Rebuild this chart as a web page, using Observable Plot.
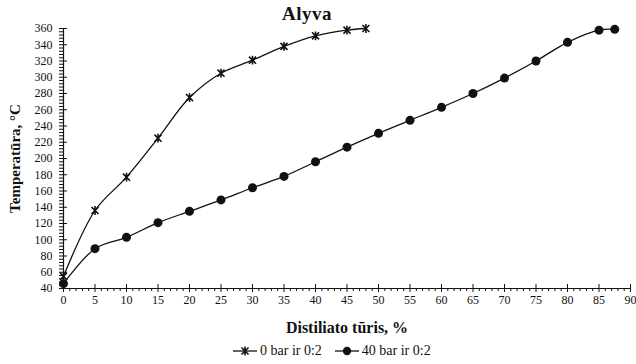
<!DOCTYPE html>
<html><head><meta charset="utf-8">
<script src="https://cdn.jsdelivr.net/npm/d3@7"></script>
<script src="https://cdn.jsdelivr.net/npm/@observablehq/plot@0.6"></script>
<style>
body{margin:0;background:#fff;font-family:"Liberation Serif","Times New Roman",serif;color:#111;}
#wrap{position:relative;width:636px;height:364px;overflow:hidden;}
#title{position:absolute;top:3px;left:307px;transform:translateX(-50%);font-weight:bold;font-size:19px;letter-spacing:0.5px;}
#chart{position:absolute;top:24px;left:0;}
#chart svg{overflow:visible;font-family:"Liberation Serif","Times New Roman",serif;}
#legend{position:absolute;top:343px;left:232px;display:flex;align-items:center;font-size:14px;white-space:nowrap;}
#legend .item{display:flex;align-items:center;margin-right:12px;}
#legend svg{margin-right:2px;}
</style>
</head><body>
<div id="wrap">
<div id="title">Alyva</div>
<div id="chart"></div>
<div id="legend"></div>
</div>
<script>
const seriesNames = ["0 bar ir 0:2", "40 bar ir 0:2"];
const x0bar = [0, 5, 10, 15, 20, 25, 30, 35, 40, 45, 48];
const t0bar = [55, 136, 177, 225, 275, 305, 321, 338, 351, 358, 360];
const x40bar = [0, 5, 10, 15, 20, 25, 30, 35, 40, 45, 50, 55, 60, 65, 70, 75, 80, 85, 87.5];
const t40bar = [46, 89, 103, 121, 135, 149, 164, 178, 196, 214, 231, 247, 263, 280, 299, 320, 343, 358, 359];
const yMajor = [40, 60, 80, 100, 120, 140, 160, 180, 200, 220, 240, 260, 280, 300, 320, 340, 360];
const xMajor = [0, 5, 10, 15, 20, 25, 30, 35, 40, 45, 50, 55, 60, 65, 70, 75, 80, 85, 90];
const yMinor = d3.range(40, 361, 4).filter(v => v % 20 !== 0);
const xMinor = d3.range(0, 91, 1).filter(v => v % 5 !== 0);

const rows0 = x0bar.map((x, i) => ({x, t: t0bar[i], s: seriesNames[0]}));
const rows40 = x40bar.map((x, i) => ({x, t: t40bar[i], s: seriesNames[1]}));
const ink = "#111";
const serif = "Liberation Serif";

// Excel-style star marker: an X with a vertical bar
const starX = {
  draw(context, size) {
    const r = Math.sqrt(size) * 0.55;
    const d = r * 0.8;
    context.moveTo(-d, -d); context.lineTo(d, d);
    context.moveTo(d, -d); context.lineTo(-d, d);
    context.moveTo(0, -r); context.lineTo(0, r);
  }
};

const chart = Plot.plot({
  width: 636, height: 316,
  marginTop: 4, marginLeft: 63, marginRight: 6, marginBottom: 52,
  x: {domain: [0, 90]},
  y: {domain: [40, 360]},
  style: {fontFamily: serif, fontSize: "12px", color: ink, background: "#fff"},
  marks: [
    Plot.ruleX([0], {stroke: ink, strokeWidth: 1.2}),
    Plot.ruleY([40], {stroke: ink, strokeWidth: 1.2}),
    Plot.axisY({ticks: yMajor, tickSize: 8, dx: 4, fill: "none", label: null, stroke: ink}),
    Plot.axisY({ticks: yMinor, tickSize: 4, fill: "none", label: null, stroke: ink}),
    Plot.axisY({ticks: yMajor, tickSize: 0, tickPadding: 11, label: null, fill: ink, fontFamily: serif, fontSize: 12}),
    Plot.axisX({ticks: xMajor, tickSize: 8, dy: -4, fill: "none", label: null, stroke: ink}),
    Plot.axisX({ticks: xMinor, tickSize: 3, fill: "none", label: null, stroke: ink}),
    Plot.axisX({ticks: xMajor, tickSize: 0, tickPadding: 7, label: null, fill: ink, fontFamily: serif, fontSize: 12}),
    Plot.text(["Temperatūra, °C"], {frameAnchor: "left", textAnchor: "middle", lineAnchor: "middle", dx: -48, rotate: -90, fontFamily: serif, fontWeight: "bold", fontSize: 15, fill: ink}),
    Plot.text(["Distiliato tūris, %"], {frameAnchor: "bottom", textAnchor: "middle", lineAnchor: "middle", dy: 39, fontFamily: serif, fontWeight: "bold", fontSize: 16, fill: ink}),
    Plot.line(rows0, {x: "x", y: "t", curve: "catmull-rom", stroke: ink, strokeWidth: 1.3}),
    Plot.dot(rows0, {x: "x", y: "t", symbol: starX, r: 4.5, stroke: ink, fill: "none", strokeWidth: 1.6}),
    Plot.line(rows40, {x: "x", y: "t", curve: "catmull-rom", stroke: ink, strokeWidth: 1.3}),
    Plot.dot(rows40, {x: "x", y: "t", symbol: "circle", r: 4.5, fill: ink, stroke: "none"})
  ]
});
document.getElementById("chart").appendChild(chart);

// legend
const legend = document.getElementById("legend");
seriesNames.forEach((name, i) => {
  const item = document.createElement("div");
  item.className = "item";
  const sym = d3.symbol(i === 0 ? starX : d3.symbolCircle, i === 0 ? 64 : 55)();
  item.innerHTML = `<svg width="26" height="12" viewBox="0 0 26 12"><line x1="1" x2="25" y1="6" y2="6" stroke="${ink}" stroke-width="1.3"/><path transform="translate(13,6)" d="${sym}" ${i === 0 ? `fill="none" stroke="${ink}" stroke-width="1.6"` : `fill="${ink}"`}/></svg><span>${name}</span>`;
  legend.appendChild(item);
});
</script>
</body></html>
